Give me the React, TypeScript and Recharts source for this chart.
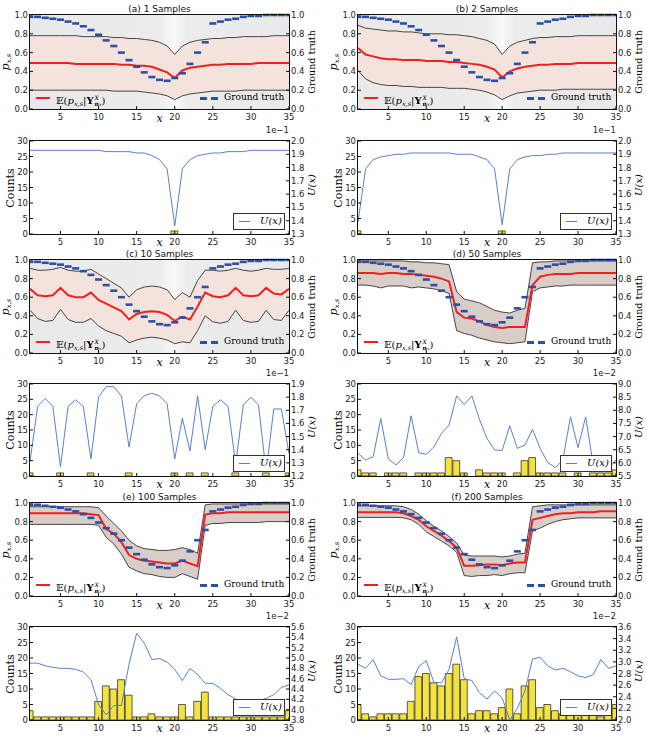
import React from "react";
import { ComposedChart, Line, Area, Bar, Scatter, XAxis, YAxis } from "recharts";

// x positions 1..35
const X = [1, 2, 3, 4, 5, 6, 7, 8, 9, 10, 11, 12, 13, 14, 15, 16, 17, 18, 19, 20, 21, 22, 23, 24, 25, 26, 27, 28, 29, 30, 31, 32, 33, 34, 35];
const X_TICKS = [5, 10, 15, 20, 25, 30, 35];
const P_TICKS = [0, 0.2, 0.4, 0.6, 0.8, 1.0];
const COUNT_TICKS = [0, 5, 10, 15, 20, 25, 30];

const GROUND_TRUTH = [0.98, 0.98, 0.97, 0.96, 0.95, 0.93, 0.91, 0.88, 0.84, 0.79, 0.73, 0.67, 0.6, 0.52, 0.45, 0.39, 0.34, 0.31, 0.3, 0.33, 0.38, 0.48, 0.6, 0.71, 0.91, 0.93, 0.95, 0.96, 0.98, 0.99, 0.99, 1.0, 1.0, 1.0, 1.0];

// (a) 1 sample
const A_MEAN = [0.49, 0.49, 0.49, 0.49, 0.49, 0.49, 0.48, 0.48, 0.48, 0.48, 0.48, 0.48, 0.47, 0.47, 0.46, 0.46, 0.45, 0.42, 0.39, 0.33, 0.41, 0.44, 0.45, 0.46, 0.47, 0.47, 0.48, 0.48, 0.48, 0.48, 0.49, 0.49, 0.49, 0.49, 0.49];
const A_UPPER = [0.78, 0.78, 0.78, 0.78, 0.78, 0.78, 0.78, 0.77, 0.77, 0.77, 0.77, 0.76, 0.76, 0.75, 0.75, 0.74, 0.73, 0.71, 0.67, 0.58, 0.67, 0.71, 0.73, 0.74, 0.75, 0.75, 0.76, 0.76, 0.77, 0.77, 0.77, 0.77, 0.78, 0.78, 0.78];
const A_LOWER = [0.2, 0.2, 0.2, 0.2, 0.2, 0.2, 0.2, 0.2, 0.2, 0.2, 0.2, 0.19, 0.19, 0.19, 0.19, 0.18, 0.17, 0.16, 0.14, 0.1, 0.14, 0.16, 0.17, 0.18, 0.19, 0.19, 0.19, 0.19, 0.2, 0.2, 0.2, 0.2, 0.2, 0.2, 0.2];
const A_COUNTS = [0, 0, 0, 0, 0, 0, 0, 0, 0, 0, 0, 0, 0, 0, 0, 0, 0, 0, 0, 1, 0, 0, 0, 0, 0, 0, 0, 0, 0, 0, 0, 0, 0, 0, 0];
const A_U = [1.93, 1.93, 1.93, 1.93, 1.93, 1.93, 1.93, 1.93, 1.93, 1.93, 1.92, 1.92, 1.92, 1.92, 1.91, 1.91, 1.89, 1.86, 1.79, 1.36, 1.79, 1.86, 1.89, 1.9, 1.91, 1.91, 1.92, 1.92, 1.92, 1.93, 1.93, 1.93, 1.93, 1.93, 1.93];

// (b) 2 samples
const B_MEAN = [0.65, 0.58, 0.56, 0.54, 0.53, 0.53, 0.52, 0.52, 0.52, 0.51, 0.51, 0.51, 0.5, 0.5, 0.49, 0.48, 0.47, 0.45, 0.42, 0.335, 0.4, 0.43, 0.45, 0.46, 0.47, 0.47, 0.48, 0.48, 0.48, 0.49, 0.49, 0.49, 0.49, 0.49, 0.49];
const B_UPPER = [0.89, 0.86, 0.85, 0.84, 0.83, 0.83, 0.82, 0.82, 0.81, 0.8, 0.8, 0.8, 0.79, 0.79, 0.78, 0.77, 0.75, 0.73, 0.69, 0.58, 0.67, 0.71, 0.73, 0.75, 0.76, 0.76, 0.77, 0.77, 0.77, 0.78, 0.78, 0.78, 0.78, 0.78, 0.78];
const B_LOWER = [0.41, 0.32, 0.28, 0.26, 0.25, 0.25, 0.24, 0.24, 0.23, 0.23, 0.23, 0.23, 0.22, 0.22, 0.22, 0.21, 0.2, 0.18, 0.15, 0.1, 0.14, 0.17, 0.18, 0.19, 0.2, 0.2, 0.2, 0.21, 0.21, 0.21, 0.21, 0.21, 0.21, 0.21, 0.21];
const B_COUNTS = [1, 0, 0, 0, 0, 0, 0, 0, 0, 0, 0, 0, 0, 0, 0, 0, 0, 0, 0, 1, 0, 0, 0, 0, 0, 0, 0, 0, 0, 0, 0, 0, 0, 0, 0];
const B_U = [1.39, 1.79, 1.86, 1.88, 1.89, 1.9, 1.9, 1.91, 1.91, 1.91, 1.91, 1.91, 1.91, 1.9, 1.9, 1.9, 1.88, 1.86, 1.79, 1.37, 1.79, 1.86, 1.88, 1.89, 1.89, 1.9, 1.9, 1.91, 1.91, 1.91, 1.91, 1.91, 1.91, 1.91, 1.91];

// (c) 10 samples
const C_MEAN = [0.69, 0.62, 0.61, 0.62, 0.7, 0.62, 0.6, 0.6, 0.65, 0.57, 0.53, 0.49, 0.45, 0.36, 0.42, 0.44, 0.45, 0.44, 0.41, 0.345, 0.39, 0.36, 0.5, 0.65, 0.61, 0.6, 0.62, 0.7, 0.62, 0.61, 0.62, 0.7, 0.64, 0.63, 0.69];
const C_UPPER = [0.91, 0.89, 0.89, 0.9, 0.92, 0.89, 0.88, 0.88, 0.9, 0.85, 0.8, 0.75, 0.7, 0.6, 0.68, 0.71, 0.72, 0.71, 0.68, 0.575, 0.65, 0.6, 0.78, 0.89, 0.89, 0.88, 0.89, 0.91, 0.89, 0.88, 0.89, 0.91, 0.9, 0.9, 0.91];
const C_LOWER = [0.46, 0.37, 0.34, 0.35, 0.47, 0.36, 0.33, 0.33, 0.37, 0.29, 0.24, 0.21, 0.18, 0.11, 0.14, 0.16, 0.17, 0.16, 0.14, 0.1, 0.12, 0.11, 0.24, 0.4, 0.335, 0.32, 0.34, 0.46, 0.35, 0.33, 0.34, 0.46, 0.36, 0.35, 0.46];
const C_COUNTS = [1, 0, 0, 0, 1, 0, 0, 0, 1, 0, 0, 0, 0, 1, 0, 0, 0, 0, 0, 1, 0, 1, 0, 1, 0, 0, 0, 1, 0, 0, 0, 1, 0, 0, 1];
const C_U = [1.31, 1.73, 1.79, 1.73, 1.27, 1.73, 1.78, 1.73, 1.33, 1.8, 1.88, 1.88, 1.81, 1.42, 1.75, 1.81, 1.83, 1.81, 1.75, 1.33, 1.64, 1.39, 1.81, 1.4, 1.73, 1.78, 1.73, 1.29, 1.74, 1.8, 1.74, 1.23, 1.71, 1.71, 1.37];

// (d) 50 samples
const D_MEAN = [0.86, 0.86, 0.86, 0.85, 0.86, 0.86, 0.85, 0.85, 0.84, 0.83, 0.82, 0.8, 0.77, 0.44, 0.38, 0.37, 0.34, 0.3, 0.28, 0.27, 0.28, 0.28, 0.28, 0.73, 0.82, 0.84, 0.85, 0.85, 0.85, 0.86, 0.86, 0.86, 0.86, 0.86, 0.86];
const D_UPPER = [0.99, 0.99, 0.99, 0.99, 0.99, 0.99, 0.99, 0.98, 0.98, 0.97, 0.97, 0.96, 0.95, 0.66, 0.58, 0.56, 0.54, 0.5, 0.46, 0.44, 0.43, 0.46, 0.48, 0.97, 0.98, 0.98, 0.99, 0.99, 0.99, 0.99, 0.99, 0.99, 0.99, 0.99, 0.99];
const D_LOWER = [0.73, 0.73, 0.72, 0.7, 0.72, 0.72, 0.72, 0.7, 0.71, 0.7, 0.69, 0.67, 0.64, 0.24, 0.21, 0.19, 0.16, 0.14, 0.12, 0.11, 0.1, 0.11, 0.12, 0.66, 0.7, 0.71, 0.72, 0.72, 0.73, 0.73, 0.73, 0.73, 0.73, 0.73, 0.73];
const D_COUNTS = [2, 1, 1, 0, 1, 1, 1, 0, 1, 1, 1, 1, 6, 5, 1, 0, 2, 1, 1, 1, 0, 1, 5, 6, 1, 1, 1, 1, 0, 1, 0, 1, 1, 1, 2];
const D_U = [6.36, 6.11, 6.23, 7.69, 6.15, 5.92, 6.2, 7.79, 6.39, 6.32, 6.61, 7.12, 7.44, 8.55, 8.22, 8.55, 7.66, 6.93, 6.49, 6.47, 7.41, 6.55, 6.68, 7.27, 6.55, 6.01, 5.82, 6.11, 7.75, 6.58, 7.75, 5.92, 5.73, 5.79, 6.11];

// (e) 100 samples
const E_MEAN = [0.89, 0.89, 0.89, 0.89, 0.89, 0.89, 0.89, 0.89, 0.88, 0.87, 0.72, 0.67, 0.58, 0.44, 0.4, 0.38, 0.37, 0.36, 0.35, 0.35, 0.38, 0.35, 0.32, 0.875, 0.89, 0.89, 0.9, 0.9, 0.9, 0.9, 0.9, 0.9, 0.9, 0.9, 0.9];
const E_UPPER = [0.96, 0.96, 0.96, 0.96, 0.96, 0.96, 0.96, 0.96, 0.96, 0.95, 0.86, 0.78, 0.7, 0.6, 0.54, 0.51, 0.5, 0.49, 0.49, 0.5, 0.52, 0.5, 0.46, 0.98, 0.99, 0.99, 0.99, 0.99, 0.99, 0.99, 0.99, 0.99, 0.99, 0.99, 0.99];
const E_LOWER = [0.77, 0.77, 0.77, 0.77, 0.77, 0.77, 0.77, 0.77, 0.77, 0.76, 0.63, 0.56, 0.45, 0.31, 0.27, 0.24, 0.23, 0.21, 0.2, 0.2, 0.24, 0.21, 0.18, 0.76, 0.78, 0.78, 0.79, 0.79, 0.79, 0.79, 0.79, 0.8, 0.8, 0.8, 0.8];
const E_COUNTS = [3, 1, 1, 1, 1, 1, 1, 1, 1, 6, 11, 10, 13, 8, 1, 1, 2, 1, 1, 1, 5, 1, 6, 9, 1, 1, 1, 1, 1, 1, 1, 1, 1, 1, 3];
const E_U = [4.9, 4.9, 4.85, 4.82, 4.8, 4.8, 4.78, 4.73, 4.58, 4.1, 3.9, 4.08, 4.08, 4.88, 5.48, 5.29, 4.97, 4.99, 4.92, 4.78, 4.56, 4.8, 4.68, 4.51, 4.51, 4.41, 4.29, 4.21, 4.15, 4.14, 4.17, 4.22, 4.29, 4.43, 4.48];

// (f) 200 samples
const F_MEAN = [0.9, 0.9, 0.9, 0.9, 0.9, 0.9, 0.89, 0.86, 0.82, 0.75, 0.7, 0.65, 0.59, 0.52, 0.325, 0.325, 0.33, 0.34, 0.34, 0.33, 0.35, 0.36, 0.36, 0.82, 0.84, 0.86, 0.88, 0.89, 0.89, 0.9, 0.9, 0.9, 0.91, 0.91, 0.91];
const F_UPPER = [0.97, 0.97, 0.97, 0.97, 0.97, 0.97, 0.96, 0.93, 0.88, 0.81, 0.75, 0.7, 0.64, 0.57, 0.44, 0.43, 0.43, 0.43, 0.43, 0.42, 0.43, 0.45, 0.46, 0.96, 0.97, 0.98, 0.98, 0.98, 0.98, 0.98, 0.98, 0.98, 0.98, 0.98, 0.98];
const F_LOWER = [0.845, 0.845, 0.845, 0.845, 0.845, 0.845, 0.84, 0.82, 0.77, 0.69, 0.64, 0.59, 0.54, 0.47, 0.22, 0.21, 0.22, 0.22, 0.23, 0.22, 0.24, 0.25, 0.25, 0.7, 0.73, 0.77, 0.8, 0.82, 0.83, 0.84, 0.84, 0.84, 0.84, 0.84, 0.84];
const F_COUNTS = [5, 2, 1, 2, 2, 2, 2, 6, 14, 15, 12, 11, 15, 18, 13, 2, 3, 3, 2, 4, 10, 2, 11, 13, 4, 5, 3, 2, 2, 2, 2, 2, 1, 2, 5];
const F_U = [2.96, 2.89, 3.04, 2.76, 2.7, 2.7, 2.71, 2.61, 2.92, 3.02, 2.65, 2.64, 2.87, 3.43, 2.71, 2.68, 2.47, 2.36, 2.5, 2.38, 2.0, 2.2, 2.5, 3.05, 3.08, 2.93, 2.86, 2.89, 2.83, 2.76, 2.73, 2.78, 3.04, 2.89, 2.93];

const U_TICKS_ABC = [1.3, 1.4, 1.5, 1.6, 1.7, 1.8, 1.9, 2.0];
const U_TICKS_C = [1.2, 1.3, 1.4, 1.5, 1.6, 1.7, 1.8, 1.9];
const U_TICKS_D = [5.5, 6.0, 6.5, 7.0, 7.5, 8.0, 8.5, 9.0];
const U_TICKS_E = [3.8, 4.0, 4.2, 4.4, 4.6, 4.8, 5.0, 5.2, 5.4, 5.6];
const U_TICKS_F = [2.0, 2.2, 2.4, 2.6, 2.8, 3.0, 3.2, 3.4, 3.6];

const PANELS = [
  { title: "(a) 1 Samples", mean: A_MEAN, upper: A_UPPER, lower: A_LOWER, counts: A_COUNTS, u: A_U, uTicks: U_TICKS_ABC, exp: "1e\u22121", light: true },
  { title: "(b) 2 Samples", mean: B_MEAN, upper: B_UPPER, lower: B_LOWER, counts: B_COUNTS, u: B_U, uTicks: U_TICKS_ABC, exp: "1e\u22121", light: true },
  { title: "(c) 10 Samples", mean: C_MEAN, upper: C_UPPER, lower: C_LOWER, counts: C_COUNTS, u: C_U, uTicks: U_TICKS_C, exp: "1e\u22121", light: true },
  { title: "(d) 50 Samples", mean: D_MEAN, upper: D_UPPER, lower: D_LOWER, counts: D_COUNTS, u: D_U, uTicks: U_TICKS_D, exp: "1e\u22122", light: false },
  { title: "(e) 100 Samples", mean: E_MEAN, upper: E_UPPER, lower: E_LOWER, counts: E_COUNTS, u: E_U, uTicks: U_TICKS_E, exp: "1e\u22122", light: false },
  { title: "(f) 200 Samples", mean: F_MEAN, upper: F_UPPER, lower: F_LOWER, counts: F_COUNTS, u: F_U, uTicks: U_TICKS_F, exp: "1e\u22122", light: false },
];

const COLS = [
  { left: 0, width: 323, plotL: 30, plotR: 289 },
  { left: 323, width: 324, plotL: 358, plotR: 616 },
];
const ROWS = [
  { top: [15, 109], bot: [141, 234] },
  { top: [260, 353], bot: [384, 476] },
  { top: [503, 596], bot: [627, 720] },
];

const SERIF = "'DejaVu Serif', serif";
const SANS = "'DejaVu Sans', sans-serif";
const RED = "#f02020";
const GT_BLUE = "#2d4fa6";
const U_BLUE = "#5a7fd0";
const tickStyle = { fontSize: 8.5, fontFamily: SANS, fill: "#222" };

function Rot({ cx, cy, children, style }: any) {
  return (
    <div
      style={{
        position: "absolute",
        left: cx,
        top: cy,
        transform: "translate(-50%, -50%) rotate(-90deg)",
        whiteSpace: "nowrap",
        ...style,
      }}
    >
      {children}
    </div>
  );
}

function ExpLabel() {
  return (
    <span style={{ fontFamily: SERIF, fontSize: 10, whiteSpace: "nowrap", lineHeight: "12px" }}>
      𝔼(<i>p</i>
      <span style={{ fontSize: 6.5, position: "relative", top: 2 }}>
        <i>x,s</i>
      </span>
      |<b>Y</b>
      <span style={{ display: "inline-flex", flexDirection: "column", verticalAlign: "middle", fontSize: 6, lineHeight: "6px", marginLeft: 1 }}>
        <i>X</i>
        <span>
          <b>n</b>
          <i style={{ fontSize: 4.5 }}>x</i>
        </span>
      </span>
      )
    </span>
  );
}

const Dash = (props: any) => {
  const { cx, cy } = props;
  if (cx == null || cy == null) return null;
  return <line x1={cx - 3.5} x2={cx + 3.5} y1={cy} y2={cy} stroke={GT_BLUE} strokeWidth={2.6} />;
};

function Frame({ l, t, w, h }: any) {
  return <div style={{ position: "absolute", left: l - 1, top: t - 1, width: w, height: h, border: "1px solid #111", pointerEvents: "none" }} />;
}

function chartMargin(col: any) {
  // each axis takes 1px (an axis with zero size is not drawn)
  return { top: 14, bottom: 14, left: col.plotL - col.left - 1, right: col.left + col.width - col.plotR - 1 };
}

// x axes: bottom with labels, top with inner ticks only
function xAxes() {
  return [
    <XAxis key="xb" dataKey="x" type="number" domain={[1, 35]} ticks={X_TICKS} interval={0} allowDataOverflow height={1} axisLine={false} tickSize={-3} tickMargin={8} tick={tickStyle} stroke="#111" />,
    <XAxis key="xt" xAxisId="top" orientation="top" dataKey="x" type="number" domain={[1, 35]} ticks={X_TICKS} interval={0} allowDataOverflow height={1} axisLine={false} tickSize={-3} tick={false} stroke="#111" />,
  ];
}

function TopPanel({ p, col, row }: any) {
  const [t, b] = row.top;
  const w = col.plotR - col.plotL;
  const h = b - t;
  const data = X.map((x, i) => ({
    x,
    mean: p.mean[i],
    upper: p.upper[i],
    lower: p.lower[i],
    band: [p.lower[i], p.upper[i]],
    gt: GROUND_TRUTH[i],
  }));
  const bg = p.light
    ? "linear-gradient(to right, #e9e9e9 0%, #ececec 50%, #f8f8f8 55.9%, #ececec 61%, #e9e9e9 100%)"
    : "#ffffff";
  return (
    <>
      <div style={{ position: "absolute", left: col.plotL, top: t, width: w, height: h, background: bg }} />
      <div style={{ position: "absolute", left: col.left, top: t - 15 }}>
        <ComposedChart width={col.width} height={h + 30} data={data} margin={chartMargin(col)}>
          {xAxes()}
          <YAxis yAxisId="l" type="number" domain={[0, 1]} ticks={P_TICKS} interval={0} width={1} axisLine={false} tickSize={-3} tickMargin={5} tick={tickStyle} stroke="#111" tickFormatter={(v: number) => v.toFixed(1)} />
          <YAxis yAxisId="r" orientation="right" type="number" domain={[0, 1]} ticks={P_TICKS} interval={0} width={1} axisLine={false} tickSize={-3} tickMargin={5} tick={tickStyle} stroke="#111" tickFormatter={(v: number) => v.toFixed(1)} />
          <Area yAxisId="l" type="linear" dataKey="band" stroke="none" fill={p.light ? "#f3e3dc" : "#d9cdc8"} fillOpacity={1} isAnimationActive={false} />
          <Line yAxisId="l" type="linear" dataKey="upper" stroke="#333" strokeWidth={0.9} dot={false} isAnimationActive={false} />
          <Line yAxisId="l" type="linear" dataKey="lower" stroke="#333" strokeWidth={0.9} dot={false} isAnimationActive={false} />
          <Line yAxisId="l" type="linear" dataKey="mean" stroke={RED} strokeWidth={2} dot={false} isAnimationActive={false} />
          <Scatter yAxisId="r" dataKey="gt" shape={Dash} isAnimationActive={false} />
        </ComposedChart>
      </div>
      <Frame l={col.plotL} t={t} w={w} h={h} />
      <div style={{ position: "absolute", left: col.plotL, width: w, top: t - 11, lineHeight: "10px", textAlign: "center", fontFamily: SANS, fontSize: 9, color: "#111" }}>{p.title}</div>
      <div style={{ position: "absolute", left: col.plotL + w / 2 - 3, top: b + 5, lineHeight: "9px", fontFamily: SERIF, fontStyle: "italic", fontSize: 11 }}>x</div>
      <Rot cx={col.plotL - 24} cy={t + h / 2} style={{ fontFamily: SERIF, fontSize: 11, lineHeight: "10px" }}>
        <i>p</i>
        <span style={{ fontSize: 7, position: "relative", top: 2 }}>
          <i>x,s</i>
        </span>
      </Rot>
      <Rot cx={col.plotR + 23} cy={t + h / 2} style={{ fontFamily: SERIF, fontSize: 9.5, lineHeight: "10px" }}>
        Ground truth
      </Rot>
      {/* legend */}
      <div style={{ position: "absolute", left: col.plotL + 6, top: b - 12, width: 14, height: 2, background: RED }} />
      <div style={{ position: "absolute", left: col.plotL + 26, top: b - 19 }}>
        <ExpLabel />
      </div>
      <div style={{ position: "absolute", left: col.plotR - 89, top: b - 12, width: 7, height: 2.5, background: GT_BLUE }} />
      <div style={{ position: "absolute", left: col.plotR - 78, top: b - 12, width: 7, height: 2.5, background: GT_BLUE }} />
      <div style={{ position: "absolute", left: col.plotR - 65, top: b - 17, lineHeight: "11px", fontFamily: SERIF, fontSize: 9, whiteSpace: "nowrap" }}>Ground truth</div>
    </>
  );
}

function BottomPanel({ p, col, row }: any) {
  const [t, b] = row.bot;
  const w = col.plotR - col.plotL;
  const h = b - t;
  const data = X.map((x, i) => ({ x, count: p.counts[i], u: p.u[i] }));
  const uDomain = [p.uTicks[0], p.uTicks[p.uTicks.length - 1]];
  return (
    <>
      <div style={{ position: "absolute", left: col.left, top: t - 15 }}>
        <ComposedChart width={col.width} height={h + 30} data={data} barCategoryGap={0} barGap={0} margin={chartMargin(col)}>
          {xAxes()}
          <YAxis yAxisId="c" type="number" domain={[0, 30]} ticks={COUNT_TICKS} interval={0} width={1} axisLine={false} tickSize={-3} tickMargin={5} tick={tickStyle} stroke="#111" />
          <YAxis yAxisId="u" orientation="right" type="number" domain={uDomain} ticks={p.uTicks} interval={0} width={1} axisLine={false} tickSize={-3} tickMargin={5} tick={tickStyle} stroke="#111" tickFormatter={(v: number) => v.toFixed(1)} />
          <Bar yAxisId="c" dataKey="count" barSize={w / 34} fill="#f4e33f" stroke="#333" strokeWidth={0.8} isAnimationActive={false} />
          <Line yAxisId="u" type="linear" dataKey="u" stroke={U_BLUE} strokeWidth={1} dot={false} isAnimationActive={false} />
        </ComposedChart>
      </div>
      <Frame l={col.plotL} t={t} w={w} h={h} />
      <div style={{ position: "absolute", left: col.plotR - 24, width: 24, textAlign: "right", top: t - 15, lineHeight: "9px", fontFamily: SANS, fontSize: 8.5, color: "#222" }}>{p.exp}</div>
      <div style={{ position: "absolute", left: col.plotL + w / 2 - 3, top: b + 4, lineHeight: "9px", fontFamily: SERIF, fontStyle: "italic", fontSize: 11 }}>x</div>
      <Rot cx={col.plotL - 19} cy={t + h / 2} style={{ fontFamily: SERIF, fontSize: 11, lineHeight: "10px" }}>
        Counts
      </Rot>
      <Rot cx={col.plotR + 23} cy={t + h / 2 - 3} style={{ fontFamily: SERIF, fontSize: 10, fontStyle: "italic", lineHeight: "10px" }}>
        U(x)
      </Rot>
      {/* legend box */}
      <div
        style={{
          position: "absolute",
          left: col.plotR - 56,
          top: b - 21,
          width: 50,
          height: 15,
          border: "1px solid #333",
          background: "#fff",
        }}
      >
        <div style={{ position: "absolute", left: 5, top: 7, width: 11, height: 1, background: U_BLUE }} />
        <div style={{ position: "absolute", left: 26, top: 0, fontFamily: SERIF, fontStyle: "italic", fontSize: 10, lineHeight: "14px" }}>U(x)</div>
      </div>
    </>
  );
}

export default function App() {
  return (
    <div style={{ position: "absolute", left: 0, top: 0, width: 647, height: 742, background: "#fff", overflow: "hidden" }}>
      {PANELS.map((p, i) => {
        const col = COLS[i % 2];
        const row = ROWS[Math.floor(i / 2)];
        return (
          <React.Fragment key={p.title}>
            <TopPanel p={p} col={col} row={row} />
            <BottomPanel p={p} col={col} row={row} />
          </React.Fragment>
        );
      })}
    </div>
  );
}
